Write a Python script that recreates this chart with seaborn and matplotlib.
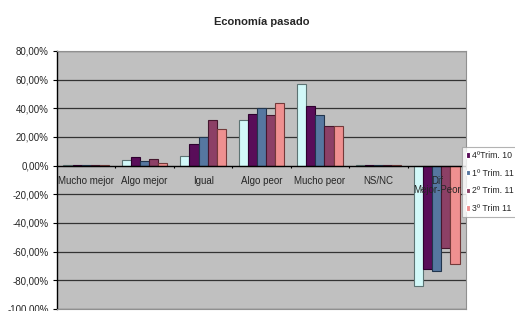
import pandas as pd
import matplotlib.pyplot as plt
import matplotlib.colors as mcolors
import seaborn as sns

# Data (percent values)
categorias = ['Mucho mejor', 'Algo mejor', 'Igual', 'Algo peor', 'Mucho peor', 'NS/NC', 'Dif\nMejor-Peor']
series = ['3º Trim. 10', '4ºTrim. 10', '1º Trim. 11', '2º Trim. 11', '3º Trim 11']
trim3_10 = [0.3, 4.0, 6.8, 31.8, 56.9, 0.3, -84.3]
trim4_10 = [0.6, 6.1, 15.1, 36.2, 41.6, 0.5, -72.0]
trim1_11 = [0.3, 3.0, 19.7, 40.0, 35.3, 0.3, -73.2]
trim2_11 = [0.6, 4.9, 31.8, 35.3, 27.7, 0.5, -57.6]
trim3_11 = [0.3, 1.9, 25.6, 43.4, 27.7, 0.4, -68.8]
colores = ['#CCFFFF', '#660066', '#4A76AC', '#993366', '#FF8080']

valores = [trim3_10, trim4_10, trim1_11, trim2_11, trim3_11]
rows = []
for s, vals in zip(series, valores):
    for c, v in zip(categorias, vals):
        rows.append({'categoria': c, 'serie': s, 'valor': v})
df = pd.DataFrame(rows)

sns.set_style('white')
plt.rcParams['font.family'] = ['Liberation Sans', 'DejaVu Sans']

fig = plt.figure(figsize=(5.15, 3.11), dpi=100)
ax = fig.add_axes([57 / 515, 2 / 311, 409 / 515, 258 / 311])
ax.set_facecolor('#C0C0C0')

sns.barplot(data=df, x='categoria', y='valor', hue='serie', order=categorias,
            hue_order=series, palette=colores, width=0.78, ax=ax,
            linewidth=0.8, zorder=3, legend=True)

# darker outline per series
for cont, col in zip(ax.containers, colores):
    r, g, b = mcolors.to_rgb(col)
    edge = (r * 0.45, g * 0.45, b * 0.45)
    for bar in cont:
        bar.set_edgecolor(edge)

ax.set_ylim(-100, 80)
ax.set_xlim(-0.5, len(categorias) - 0.5)
ax.set_yticks(range(-100, 81, 20))
ax.set_yticklabels([f'{t},00%' for t in range(-100, 81, 20)], fontsize=7)
ax.tick_params(axis='y', length=3, width=0.8, color='black', pad=3, left=True)
for t in range(-100, 81, 20):
    if t != 0:
        ax.axhline(t, color='#333333', lw=0.9, zorder=1)
ax.axhline(0, color='black', lw=1.0, zorder=4)

ax.set_xticks([])
ax.set_xlabel('')
ax.set_ylabel('')
for i, c in enumerate(categorias):
    ax.text(i, -7, c, ha='center', va='top', fontsize=7, zorder=5, linespacing=0.95)
ax.vlines([i + 0.5 for i in range(len(categorias) - 1)], -1.5, 0, color='black', lw=0.8, zorder=4)

for side in ['top', 'right', 'bottom']:
    ax.spines[side].set_color('#909090')
    ax.spines[side].set_linewidth(0.8)
ax.spines['left'].set_color('black')
ax.spines['left'].set_linewidth(1.0)

fig.text(262 / 515, 1 - 22 / 311, 'Economía pasado', ha='center', va='center',
         fontsize=8, fontweight='bold')

handles, labels = ax.get_legend_handles_labels()
leg = ax.legend(handles[1:], labels[1:], loc='upper left',
                bbox_to_anchor=(462 / 515, 1 - 147 / 311), bbox_transform=fig.transFigure,
                fontsize=6.3, frameon=True, fancybox=False, handlelength=0.5,
                handleheight=0.6, handletextpad=0.25, labelspacing=1.0,
                borderpad=0.45, borderaxespad=0)
leg.get_frame().set_edgecolor('#A0A0A0')
leg.get_frame().set_linewidth(0.8)

fig.savefig('out.png', dpi=100)
